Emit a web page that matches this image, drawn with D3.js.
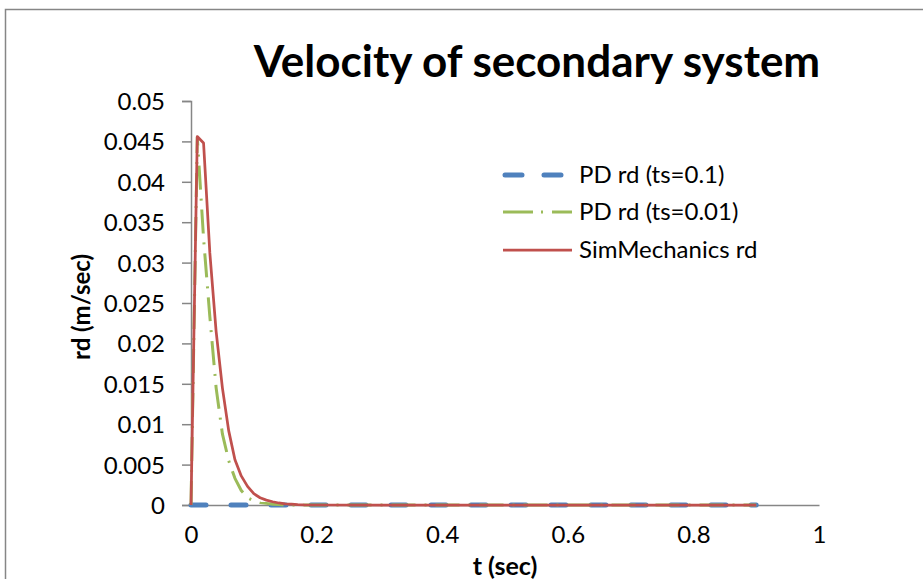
<!DOCTYPE html>
<html>
<head>
<meta charset="utf-8">
<script src="https://cdn.jsdelivr.net/npm/d3@7"></script>
<style>
  body { margin: 0; background: #fff; }
  svg text { font-family: Lato, "Open Sans", sans-serif; fill: #000; }
</style>
</head>
<body>
<svg width="923" height="579"></svg>
<script>
// time steps (sec)
const tBlue = [0, 0.1, 0.2, 0.3, 0.4, 0.5, 0.6, 0.7, 0.8, 0.9];
const vBlue = [0, 0, 0, 0, 0, 0, 0, 0, 0, 0];

const tFine = [0, 0.01, 0.02, 0.03, 0.04, 0.05, 0.06, 0.07, 0.08, 0.09, 0.1,
               0.11, 0.12, 0.13, 0.14, 0.15, 0.16, 0.17, 0.18, 0.2, 0.3, 0.4,
               0.5, 0.6, 0.7, 0.8, 0.9];
// PD rd (ts=0.01)
const vGreen = [0, 0.0455, 0.033, 0.0233, 0.0145, 0.0088, 0.0055, 0.0033, 0.0018,
                0.0009, 0.0005, 0.0003, 0.0002, 0.0001, 0.00005, 0, 0, 0, 0, 0,
                0, 0, 0, 0, 0, 0, 0];
// SimMechanics rd
const vRed = [0, 0.0456, 0.0448, 0.0312, 0.0215, 0.0145, 0.0092, 0.0056, 0.0036,
              0.0023, 0.0014, 0.0009, 0.0006, 0.0004, 0.00025, 0.00015, 0.0001,
              0.00005, 0.00002, 0, 0, 0, 0, 0, 0, 0, 0];

const xTicks = [0, 0.2, 0.4, 0.6, 0.8, 1];
const yTicks = [0, 0.005, 0.01, 0.015, 0.02, 0.025, 0.03, 0.035, 0.04, 0.045, 0.05];

const seriesNames = ["PD rd (ts=0.1)", "PD rd (ts=0.01)", "SimMechanics rd"];

const svg = d3.select("svg");

// outer chart frame (only left and top edges are inside the window)
svg.append("rect")
   .attr("x", 5.5).attr("y", 9.5)
   .attr("width", 1000).attr("height", 1000)
   .attr("fill", "none")
   .attr("stroke", "#868686")
   .attr("stroke-width", 1.5);

const x = d3.scaleLinear().domain([0, 1]).range([191, 819]);
const y = d3.scaleLinear().domain([0, 0.05]).range([505, 101]);

// y axis
const yAxis = svg.append("g")
   .attr("transform", "translate(191,0)")
   .call(d3.axisLeft(y).tickValues(yTicks).tickSize(9).tickPadding(17)
         .tickFormat(d => d === 0 ? "0" : String(+d.toFixed(3))));
yAxis.select(".domain").attr("stroke", "#868686").attr("stroke-width", 1.5);
yAxis.selectAll(".tick line").attr("stroke", "#868686").attr("stroke-width", 1.5);
yAxis.selectAll("text").style("font-size", "24px").attr("dy", "0.35em");

// x axis (no tick marks)
const xAxis = svg.append("g")
   .attr("transform", "translate(0,505)")
   .call(d3.axisBottom(x).tickValues(xTicks).tickSize(0).tickPadding(21)
         .tickFormat(d => String(d)));
xAxis.select(".domain").attr("stroke", "#868686").attr("stroke-width", 1.5);
xAxis.selectAll("text").style("font-size", "24px");

// title and axis titles
svg.append("text")
   .attr("x", 537).attr("y", 77)
   .attr("text-anchor", "middle")
   .style("font-size", "44px").style("font-weight", "bold")
   .text("Velocity of secondary system");

svg.append("text")
   .attr("x", 505).attr("y", 575)
   .attr("text-anchor", "middle")
   .style("font-size", "25px").style("font-weight", "bold")
   .text("t (sec)");

svg.append("text")
   .attr("transform", "translate(90,307) rotate(-90)")
   .attr("text-anchor", "middle")
   .style("font-size", "24px").style("font-weight", "bold")
   .text("rd (m/sec)");

// line styles
const styles = [
  { color: "#4F81BD", width: 5, dash: "15,25", cap: "round" },
  { color: "#9BBB59", width: 3, dash: "24,9,2,9", cap: "butt" },
  { color: "#C0504D", width: 2.75, dash: null, cap: "butt" }
];

const line = d3.line().x(d => x(d[0])).y(d => y(d[1]));

const seriesData = [
  d3.zip(tBlue, vBlue),
  d3.zip(tFine, vGreen),
  d3.zip(tFine, vRed)
];

seriesData.forEach((data, i) => {
  svg.append("path")
     .datum(data)
     .attr("d", line)
     .attr("fill", "none")
     .attr("stroke", styles[i].color)
     .attr("stroke-width", styles[i].width)
     .attr("stroke-dasharray", styles[i].dash)
     .attr("stroke-linecap", styles[i].cap)
     .attr("stroke-linejoin", "round");
});

// legend
const legendY = [175, 212, 250];
const legend = svg.append("g");
seriesNames.forEach((name, i) => {
  const s = styles[i];
  legend.append("line")
     .attr("x1", i === 0 ? 505 : 503).attr("x2", i === 0 ? 563 : 572)
     .attr("y1", legendY[i]).attr("y2", legendY[i])
     .attr("stroke", s.color)
     .attr("stroke-width", s.width)
     .attr("stroke-dasharray", i === 0 ? "17,22" : (i === 1 ? "30,8,2,9" : null))
     .attr("stroke-linecap", s.cap);
  legend.append("text")
     .attr("x", 579).attr("y", legendY[i])
     .attr("dy", "0.35em")
     .style("font-size", "24px")
     .text(name);
});
</script>
</body>
</html>
